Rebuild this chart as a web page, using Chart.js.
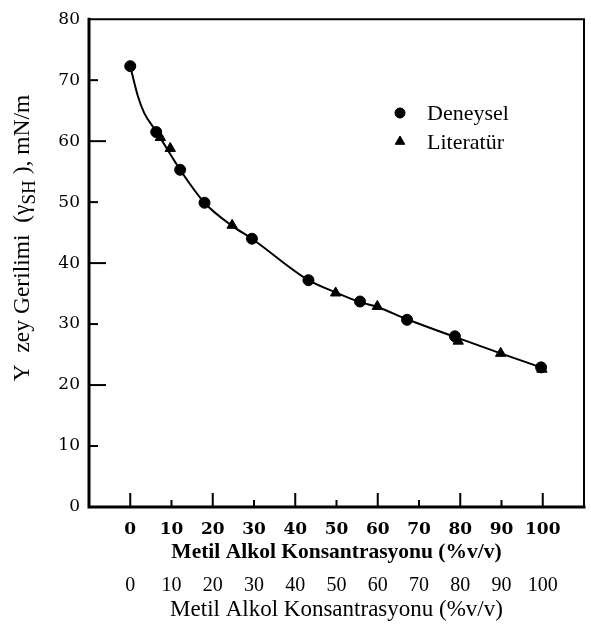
<!DOCTYPE html>
<html>
<head>
<meta charset="utf-8">
<script src="https://cdn.jsdelivr.net/npm/chart.js@4.4.0/dist/chart.umd.min.js"></script>
<style>
  html, body { margin: 0; padding: 0; background: #fff; }
  #wrap { width: 591px; height: 625px; }
</style>
</head>
<body>
<div id="wrap"><canvas id="c" width="591" height="625"></canvas></div>
<script>
// Tick positions for both x rows and the y axis
const xTicks = [0, 10, 20, 30, 40, 50, 60, 70, 80, 90, 100];
const yTicks = [0, 10, 20, 30, 40, 50, 60, 70, 80];

// Measured surface tension (mN/m) vs methanol concentration (%v/v)
const deneyselX = [0, 6.3, 12.1, 18.0, 29.5, 43.2, 55.7, 67.1, 78.7, 99.6];
const deneyselY = [72.3, 61.5, 55.3, 49.9, 44.0, 37.2, 33.7, 30.7, 28.0, 22.9];

// Literature values
const literaturX = [7.3, 9.7, 24.7, 49.8, 59.9, 79.5, 89.8, 99.8];
const literaturY = [60.6, 58.8, 46.2, 35.1, 32.9, 27.2, 25.2, 22.6];

// Smooth fitted curve through the data
const egriX = [0, 1.8, 3.4, 6.3, 12.1, 18.0, 24.7, 29.5, 43.2, 49.8, 55.7, 59.9, 67.1, 78.7, 89.8, 100];
const egriY = [72.3, 67.5, 64.6, 61.6, 55.3, 49.9, 46.1, 44.0, 37.2, 35.2, 33.6, 32.8, 30.8, 27.9, 25.2, 22.8];

const pts = (xs, ys) => xs.map((x, i) => ({ x, y: ys[i] }));

const xTitle = 'Metil Alkol Konsantrasyonu (%v/v)';
const legendItems = [
  { label: 'Deneysel', style: 'circle' },
  { label: 'Literatür', style: 'triangle' }
];

// Box frame with inward tick marks, y title and legend
const framePlugin = {
  id: 'framePlugin',
  beforeDatasetsDraw(chart) {
    const { ctx, chartArea: a, scales } = chart;
    ctx.save();
    ctx.strokeStyle = '#000';
    ctx.lineCap = 'square';
    // left + bottom heavier, top + right lighter
    ctx.lineWidth = 3;
    ctx.beginPath();
    ctx.moveTo(a.left, a.top);
    ctx.lineTo(a.left, a.bottom);
    ctx.lineTo(a.right, a.bottom);
    ctx.stroke();
    ctx.lineWidth = 2;
    ctx.beginPath();
    ctx.moveTo(a.left, a.top);
    ctx.lineTo(a.right, a.top);
    ctx.lineTo(a.right, a.bottom);
    ctx.stroke();

    ctx.lineWidth = 2;
    ctx.lineCap = 'butt';
    xTicks.forEach(v => {
      const px = scales.x.getPixelForValue(v);
      const len = (v % 20 === 0) ? 14 : 7;
      ctx.beginPath();
      ctx.moveTo(px, a.bottom);
      ctx.lineTo(px, a.bottom - len);
      ctx.stroke();
    });
    yTicks.forEach(v => {
      if (v === 0 || v === 80) return;
      const py = scales.y.getPixelForValue(v);
      const len = (v % 20 === 0) ? 17 : 9;
      ctx.beginPath();
      ctx.moveTo(a.left, py);
      ctx.lineTo(a.left + len, py);
      ctx.stroke();
    });
    ctx.restore();
  },
  afterDraw(chart) {
    const { ctx } = chart;
    ctx.save();
    // y axis title with subscript
    ctx.fillStyle = '#000';
    ctx.translate(23, 238);
    ctx.rotate(-Math.PI / 2);
    ctx.textBaseline = 'middle';
    const mainFont = '23.5px "Liberation Serif"';
    const subFont = '19px "Liberation Serif"';
    const parts = [
      { t: 'Y  zey Gerilimi  (γ', f: mainFont, dy: 0 },
      { t: 'SH', f: subFont, dy: 7 },
      { t: ' ), mN/m', f: mainFont, dy: 0 }
    ];
    let total = 0;
    parts.forEach(p => { ctx.font = p.f; p.w = ctx.measureText(p.t).width; total += p.w; });
    let x = -total / 2;
    ctx.textAlign = 'left';
    parts.forEach(p => { ctx.font = p.f; ctx.fillText(p.t, x, p.dy); x += p.w; });
    ctx.restore();

    // legend
    ctx.save();
    ctx.fillStyle = '#000';
    ctx.strokeStyle = '#000';
    ctx.font = '22px "Liberation Serif"';
    ctx.textAlign = 'left';
    ctx.textBaseline = 'alphabetic';
    legendItems.forEach((it, i) => {
      const cy = 113 + i * 28.5;
      Chart.helpers.drawPoint(ctx, { pointStyle: it.style, radius: it.style === 'circle' ? 5 : 5.5, rotation: 0, borderWidth: 1 }, 400, cy);
      ctx.fill();
      ctx.fillText(it.label, 427, cy + 7);
    });
    ctx.restore();
  }
};

const setTicks = list => scale => { scale.ticks = list.map(v => ({ value: v })); };

new Chart(document.getElementById('c'), {
  type: 'scatter',
  data: {
    datasets: [
      {
        label: 'Eğri',
        data: pts(egriX, egriY),
        showLine: true,
        borderColor: '#000',
        borderWidth: 2,
        pointRadius: 0,
        cubicInterpolationMode: 'monotone',
        fill: false,
        order: 3
      },
      {
        label: 'Deneysel',
        data: pts(deneyselX, deneyselY),
        pointStyle: 'circle',
        pointRadius: 5.5,
        backgroundColor: '#000',
        borderColor: '#000',
        borderWidth: 1,
        order: 1
      },
      {
        label: 'Literatür',
        data: pts(literaturX, literaturY),
        pointStyle: 'triangle',
        pointRadius: 6,
        backgroundColor: '#000',
        borderColor: '#000',
        borderWidth: 1,
        order: 2
      }
    ]
  },
  options: {
    responsive: false,
    animation: false,
    events: [],
    layout: { padding: { left: 0, top: 12, right: 2, bottom: 0 } },
    plugins: { legend: { display: false }, tooltip: { enabled: false } },
    scales: {
      x: {
        type: 'linear', position: 'bottom', weight: 0,
        min: -10, max: 110,
        afterBuildTicks: setTicks(xTicks),
        afterFit: s => { s.height = 58; },
        grid: { display: false, drawTicks: false },
        border: { display: false },
        ticks: {
          padding: 12, color: '#000', maxRotation: 0, autoSkip: false,
          font: { family: 'DejaVu Serif', weight: 'bold', size: 17 }
        },
        title: {
          display: true, text: xTitle, color: '#000',
          font: { family: 'Liberation Serif', weight: 'bold', size: 21.5 },
          padding: { top: 0, bottom: 0 }
        }
      },
      x2: {
        type: 'linear', position: 'bottom', weight: 1,
        min: -10, max: 110,
        afterBuildTicks: setTicks(xTicks),
        afterFit: s => { s.height = 60; },
        grid: { display: false, drawTicks: false },
        border: { display: false },
        ticks: {
          padding: 9, color: '#000', maxRotation: 0, autoSkip: false,
          font: { family: 'Liberation Serif', size: 20 }
        },
        title: {
          display: true, text: xTitle, color: '#000',
          font: { family: 'Liberation Serif', size: 23 },
          padding: { top: 0, bottom: 1 }
        }
      },
      y: {
        type: 'linear', position: 'left',
        min: 0, max: 80,
        afterBuildTicks: setTicks(yTicks),
        afterFit: s => { s.width = 89; },
        grid: { display: false, drawTicks: false },
        border: { display: false },
        ticks: {
          padding: 9, color: '#000',
          font: { family: 'DejaVu Serif', size: 17 }
        }
      }
    }
  },
  plugins: [framePlugin]
});
</script>
</body>
</html>
